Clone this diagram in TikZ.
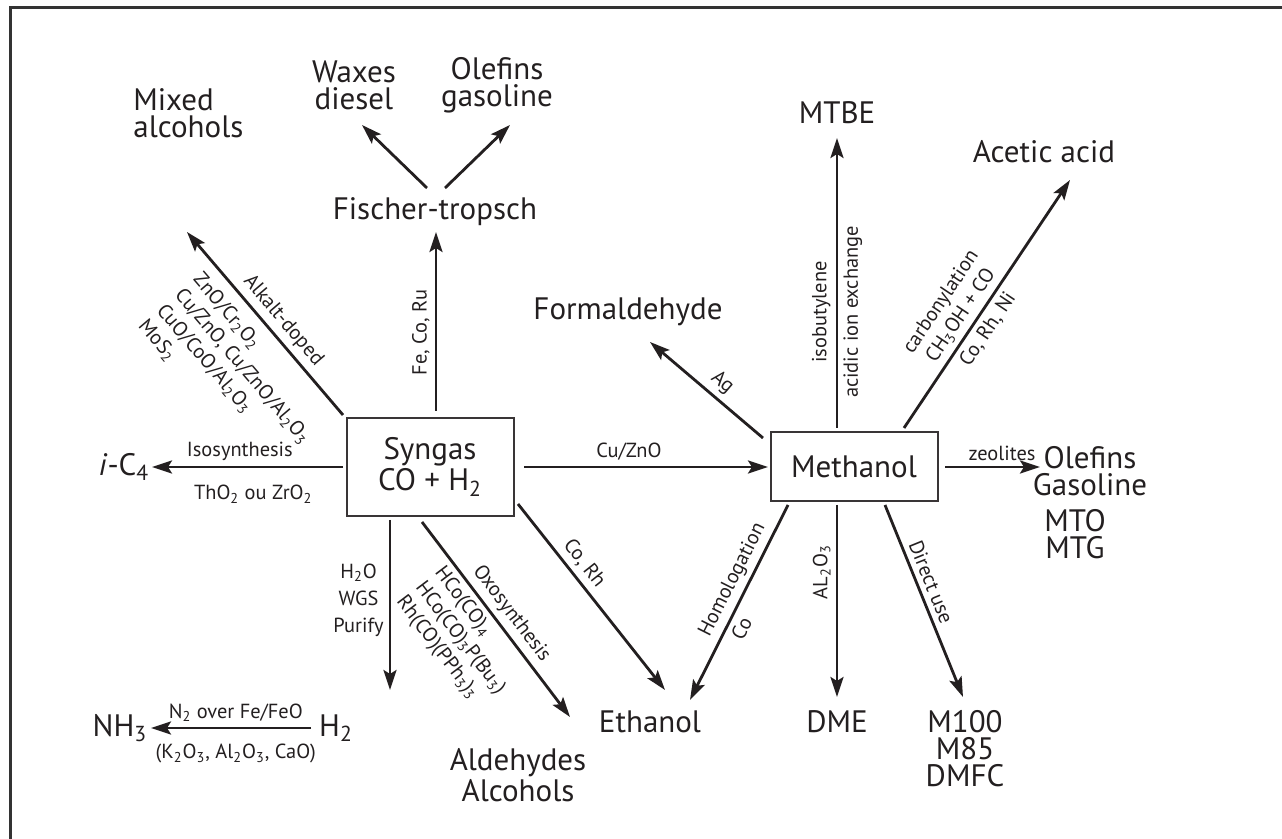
\documentclass[tikz,border=0pt]{standalone}
\usepackage{fontspec}
\setmainfont{PT Sans}
\usepackage{xcolor}
\definecolor{cInk}{HTML}{231F20}
\definecolor{cFrame}{HTML}{333333}
\usepackage{tikz}
\usetikzlibrary{positioning,arrows.meta,calc}
\newcommand{\prodfont}{\fontsize{15.5}{13.5}\selectfont}
\newcommand{\catfont}{\fontsize{10.2}{12}\selectfont}
\tikzset{
  node-box/.style={draw=cInk!90,line width=1pt,minimum width=83.5pt,
    align=center,font=\prodfont,inner sep=2pt},
  node-prod/.style={align=center,font=\prodfont,inner sep=0pt},
  arrow/.style={-{Stealth[length=10pt,width=6.5pt,inset=2pt]},line width=1.4pt,draw=cInk},
  lab/.style={font=\catfont,inner sep=2.5pt},
  lab-sl/.style={lab,sloped},
  lab-up/.style={lab,rotate=90},
  frame/.style={draw=cFrame,line width=1.5pt},
}

\begin{document}
\begin{tikzpicture}[x=0.5pt,y=-0.5pt,text=cInk]
  \useasboundingbox (0,0) rectangle (1282,839);
  \draw[frame] (10,8) rectangle (1300,860);

  % the two hubs
  \node[node-box,minimum height=49pt] (syngas) at (430,467) {Syngas\\CO + H\textsubscript{2}};
  \node[node-box,minimum height=34.5pt] (methanol) at (854,467) {Methanol};

  % products
  \node[node-prod] (fischer) at (435,212) {Fischer-tropsch};
  \node[node-prod] (waxes) at (354,85) {Waxes\\diesel};
  \node[node-prod] (olefinsG) at (497,85) {Olefins\\gasoline};
  \node[node-prod,align=left,anchor=west] (mixed) at (133,113) {Mixed\\alcohols};
  \node[node-prod] (ic4) at (124,467) {\textit{i}-C\textsubscript{4}};
  \node[node-prod] (h2) at (336,728) {H\textsubscript{2}};
  \node[node-prod] (nh3) at (120,728) {NH\textsubscript{3}};
  \node[node-prod] (aldehydes) at (518,775) {Aldehydes\\Alcohols};
  \node[node-prod] (ethanol) at (650,722) {Ethanol};
  \node[node-prod] (formal) at (628,312) {Formaldehyde};
  \node[node-prod] (mtbe) at (837,113) {MTBE};
  \node[node-prod] (acetic) at (1044,152) {Acetic acid};
  \node[node-prod] (olefinsR) at (1090,471) {Olefins\\Gasoline};
  \node[node-prod] (mto) at (1075,534) {MTO\\MTG};
  \node[node-prod] (dme) at (837,722) {DME};
  \node[node-prod] (m100) at (965,749) {M100\\M85\\DMFC};

  % syngas routes
  \draw[arrow] ($(syngas)+(6,-56)$) -- node[lab-up,pos=.44,anchor=south]{Fe, Co, Ru} ($(fischer)+(1,20)$);
  \draw[arrow] ($(fischer)+(-8,-24)$) -- ($(waxes)+(8,40)$);
  \draw[arrow] ($(fischer)+(10,-24)$) -- ($(olefinsG)+(13,40)$);
  \draw[arrow] ($(syngas)+(-87,-52)$) --
    node[lab-sl,above,pos=.46]{Alkalt-doped}
    node[lab-sl,below=3pt,anchor=north west,pos=.86,align=left]{ZnO/Cr\textsubscript{2}O\textsubscript{2}\\Cu/ZnO, Cu/ZnO/Al\textsubscript{2}O\textsubscript{3}\\CuO/CoO/Al\textsubscript{2}O\textsubscript{3}\\MoS\textsubscript{2}}
    ($(mixed.west)+(54,119)$);
  \draw[arrow] ($(syngas)+(-87,0)$) --
    node[lab,above,pos=.54]{Isosynthesis}
    node[lab,below=6pt,pos=.47]{ThO\textsubscript{2} ou ZrO\textsubscript{2}} ($(ic4)+(28,0)$);
  \draw[arrow] ($(syngas)+(-40,53)$) --
    node[lab,left,pos=.47,align=center,font=\fontsize{10.2}{13.5}\selectfont]{H\textsubscript{2}O\\WGS\\Purify} ($(h2)+(54,-38)$);
  \draw[arrow] ($(h2)+(-25,0)$) --
    node[lab,above,pos=.47]{N\textsubscript{2} over Fe/FeO}
    node[lab,below=5pt,pos=.47]{(K\textsubscript{2}O\textsubscript{3}, Al\textsubscript{2}O\textsubscript{3}, CaO)} ($(nh3)+(31,0)$);
  \draw[arrow] ($(syngas)+(-8,55)$) --
    node[lab-sl,above,pos=.52]{Oxosynthesis}
    node[lab-sl,below,anchor=north west,pos=.17,align=left]{HCo(CO)\textsubscript{4}\\HCo(CO)\textsubscript{3}P(Bu\textsubscript{3})\\Rh(CO)(PPh\textsubscript{3})\textsubscript{3}}
    ($(aldehydes)+(52,-58)$);
  \draw[arrow] ($(syngas)+(88,37)$) -- node[lab-sl,above,pos=.37]{Co, Rh} ($(ethanol)+(15,-32)$);
  \draw[arrow] ($(syngas)+(94,0)$) -- node[lab,above,pos=.43]{Cu/ZnO} ($(methanol)+(-86,0)$);

  % methanol routes
  \draw[arrow] ($(methanol)+(-91,-29)$) -- node[lab-sl,above,pos=.45]{Ag} ($(formal)+(22,30)$);
  \draw[arrow] ($(methanol)+(-17,-39)$) --
    node[lab-up,pos=.4,anchor=south]{isobutylene}
    node[lab-up,pos=.4,anchor=north]{acidic ion exchange} ($(mtbe)+(0,25)$);
  \draw[arrow] ($(methanol)+(50,-39)$) --
    node[lab-sl,above,pos=.42,align=center]{carbonylation\\CH\textsubscript{3}OH + CO}
    node[lab-sl,below,pos=.43]{Co, Rh, Ni} ($(acetic)+(26,28)$);
  \draw[arrow] ($(methanol)+(91,0)$) -- node[lab,above,pos=.6]{zeolites} ($(olefinsR)+(-50,-4)$);
  \draw[arrow] ($(methanol)+(-66,38)$) --
    node[lab-sl,above,pos=.42]{Homologation}
    node[lab-sl,below,pos=.6]{Co} ($(ethanol)+(40,-22)$);
  \draw[arrow] ($(methanol)+(-17,38)$) -- node[lab-up,pos=.35,anchor=south]{AL\textsubscript{2}O\textsubscript{3}} ($(dme)+(0,-25)$);
  \draw[arrow] ($(methanol)+(31,38)$) -- node[lab-sl,above,pos=.43]{Direct use} ($(m100)+(-2,-52)$);
\end{tikzpicture}
\end{document}
